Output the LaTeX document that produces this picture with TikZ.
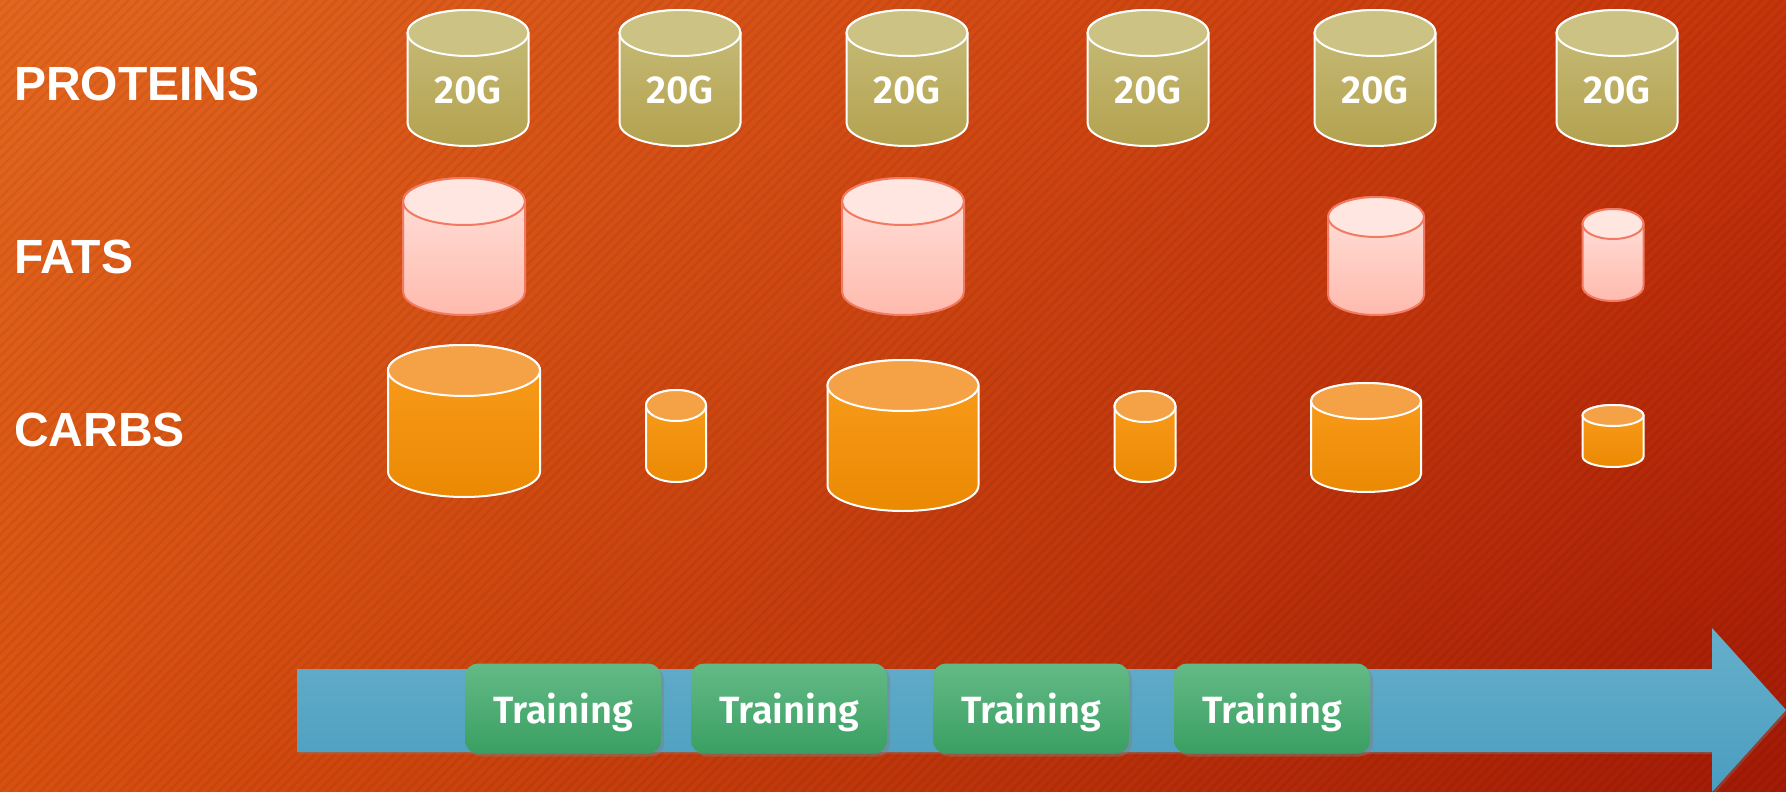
\documentclass[tikz,border=0pt]{standalone}
\usepackage{fontspec}
\setmainfont{Liberation Sans}
\newfontfamily\boxfont{Fira Sans}[BoldFont={Fira Sans SemiBold}]
\definecolor{bgtl}{HTML}{E3671F}
\definecolor{bgtr}{HTML}{C6340B}
\definecolor{bgbl}{HTML}{D8500F}
\definecolor{bgbr}{HTML}{A31A06}
\definecolor{protA}{HTML}{C8BD7B}
\definecolor{protB}{HTML}{B3A24F}
\definecolor{protcap}{HTML}{CBC283}
\definecolor{fatA}{HTML}{FFE3DD}
\definecolor{fatB}{HTML}{FFBAAD}
\definecolor{fatline}{HTML}{F27A62}
\definecolor{fatcap}{HTML}{FFE6E1}
\definecolor{carbA}{HTML}{FA9D1E}
\definecolor{carbB}{HTML}{EB8902}
\definecolor{carbcap}{HTML}{F4A245}
\definecolor{arrowA}{HTML}{66AFCB}
\definecolor{arrowB}{HTML}{4A9DBF}
\definecolor{sessA}{HTML}{63BA85}
\definecolor{sessB}{HTML}{3A9F63}
\usepackage{tikz}
\usetikzlibrary{shadows, shadings, patterns.meta}

\newcommand\drum[7]{%
  \pgfmathsetmacro\rx{#4/2}%
  \pgfmathsetmacro\yt{#2+#5}%
  \pgfmathsetmacro\yb{#3-#5}%
  \path[#6] (#1-\rx,\yt) -- (#1-\rx,\yb)
    arc[start angle=180, end angle=360, x radius=\rx pt, y radius=#5pt]
    -- (#1+\rx,\yt)
    arc[start angle=0, end angle=180, x radius=\rx pt, y radius=#5pt] -- cycle;
  \path[#7] (#1,\yt) ellipse[x radius=\rx pt, y radius=#5pt];
}

\begin{document}
\begin{tikzpicture}[x=1pt, y=-1pt,
  rowlabel/.style={anchor=base west, inner sep=0pt, text=white,
                   font=\fontsize{48}{48}\selectfont\bfseries},
  gram/.style={anchor=base, inner sep=0pt, text=white,
               font=\boxfont\fontsize{39}{39}\selectfont\bfseries},
  protbody/.style={draw=white, line width=2pt, top color=protA, bottom color=protB},
  protend/.style={draw=white, line width=2pt, fill=protcap},
  fatbody/.style={draw=fatline, line width=2pt, top color=fatA, bottom color=fatB},
  fatend/.style={draw=fatline, line width=2pt, fill=fatcap},
  carbbody/.style={draw=white, line width=2pt, top color=carbA, bottom color=carbB},
  carbend/.style={draw=white, line width=2pt, fill=carbcap},
  session/.style={rounded corners=13pt, minimum width=196pt, minimum height=90pt,
                  inner sep=0pt, text depth=0pt, text=white, top color=sessA, bottom color=sessB,
                  font=\boxfont\fontsize{38}{38}\selectfont\bfseries,
                  drop shadow={shadow xshift=3pt, shadow yshift=-3pt, opacity=0.45}},
]
\shade[upper left=bgtl, upper right=bgtr, lower left=bgbl, lower right=bgbr]
  (0,0) rectangle (1786,792);
\fill[pattern={Lines[angle=45, distance=7pt, line width=2.5pt]}, pattern color=black, opacity=0.05]
  (0,0) rectangle (1786,792);

\node[rowlabel] (proteins) at (14,100) {PROTEINS};
\node[rowlabel] (fats) at (14,273) {FATS};
\node[rowlabel] (carbs) at (14,446) {CARBS};

\foreach \cx [count=\i] in {468,680,907,1148,1375,1617} {
  \drum{\cx}{10}{146}{121}{23}{protbody}{protend}
  \node[gram] (gram\i) at (\cx,103) {20G};
}

\foreach \cx/\ct/\cb/\cw/\cr in {464/178/315/122/23.5, 903/178/315/122/23.5,
    1376/197/315/96/20, 1613/209/301/61/15}
  \drum{\cx}{\ct}{\cb}{\cw}{\cr}{fatbody}{fatend};

\foreach \cx/\ct/\cb/\cw/\cr in {464/345/497/152/25.5, 676/390/482/60/15.5,
    903/360/511/151/25.5, 1145/391/482/61/15.5, 1366/383/492/110/18, 1613/405/467/61/10.5}
  \drum{\cx}{\ct}{\cb}{\cw}{\cr}{carbbody}{carbend};

\shade[top color=arrowA, bottom color=arrowB,
       drop shadow={shadow xshift=2pt, shadow yshift=-2pt, opacity=0.35}]
  (297,669) -- (1712,669) -- (1712,628) -- (1786,710) -- (1712,792)
  -- (1712,752) -- (297,752) -- cycle;

\node[session] (train1) at (563,708.5) {Training};
\node[session] (train2) at (789,708.5) {Training};
\node[session] (train3) at (1031,708.5) {Training};
\node[session] (train4) at (1272,708.5) {Training};
\end{tikzpicture}
\end{document}
